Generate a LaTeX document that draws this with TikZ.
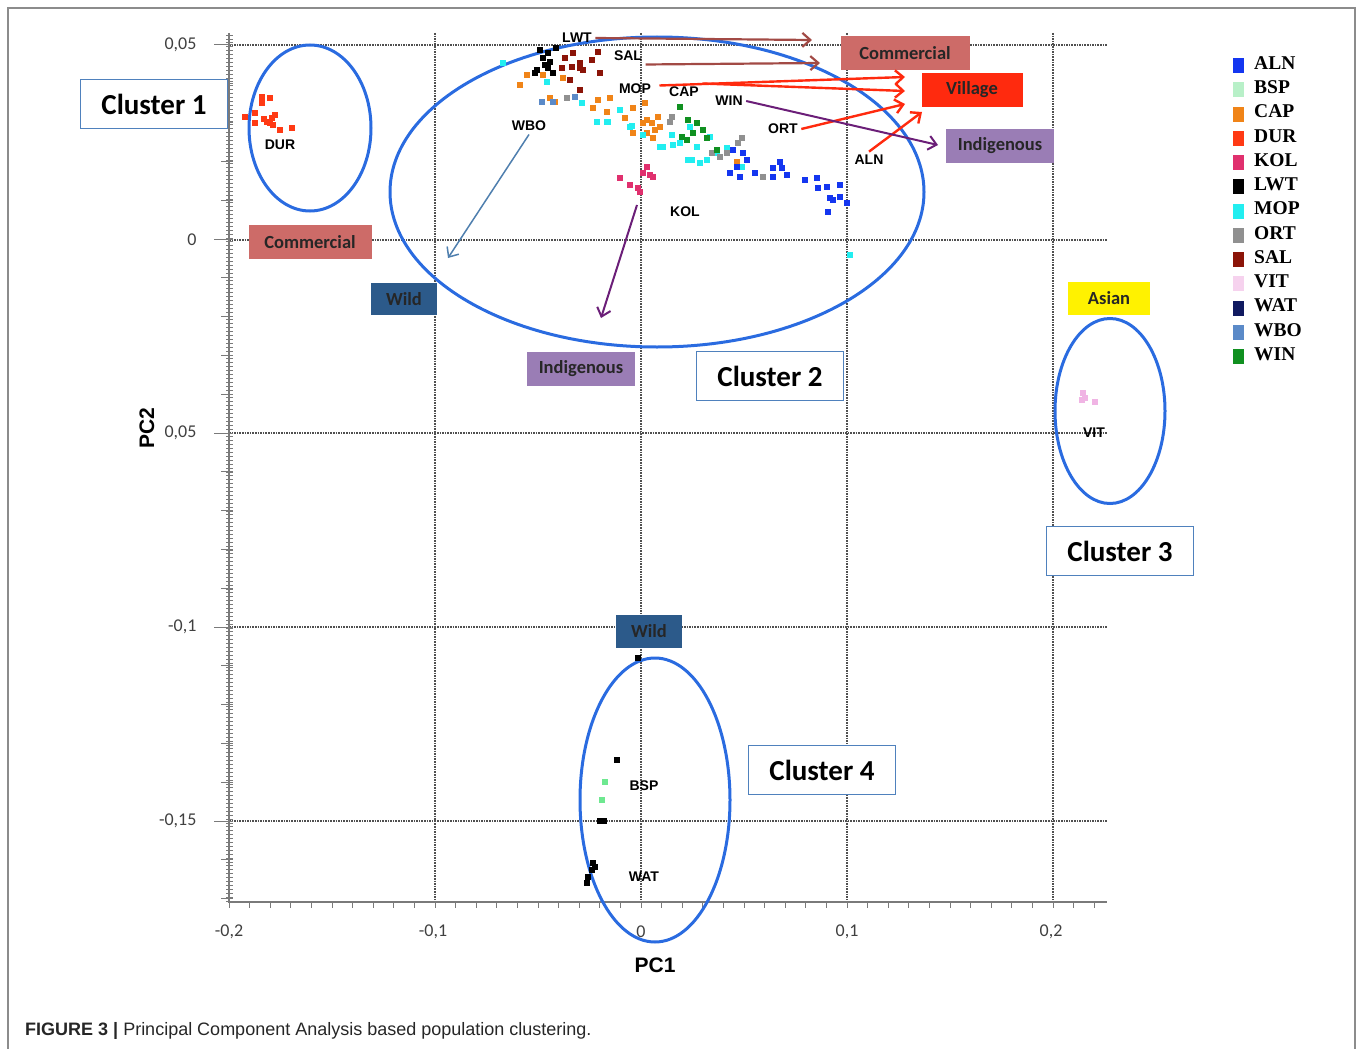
\documentclass[tikz,border=0pt]{standalone}
\usepackage{fontspec}
\setmainfont{Carlito}
\newfontfamily\lblfont{Liberation Sans}
\newfontfamily\legfont{Liberation Serif}
\usetikzlibrary{arrows.meta,shapes.geometric}

\definecolor{gridgray}{HTML}{505050}
\definecolor{axisgray}{HTML}{7A7A7A}
\definecolor{framegray}{HTML}{8C8C8C}
\definecolor{ringblue}{HTML}{2A6BE0}
\definecolor{boxblue}{HTML}{4F81BD}
\definecolor{comfill}{HTML}{CD6B68}
\definecolor{vilfill}{HTML}{FF2A0E}
\definecolor{indfill}{HTML}{9A7DB5}
\definecolor{wildfill}{HTML}{2C5A8A}
\definecolor{asfill}{HTML}{FFF200}
\definecolor{brownarr}{HTML}{A24A45}
\definecolor{purplearr}{HTML}{6B1E78}
\definecolor{steelarr}{HTML}{4F7FAE}
% population colours
\definecolor{alncol}{HTML}{1436F0}
\definecolor{bspcol}{HTML}{B8F0C8}
\definecolor{capcol}{HTML}{F08418}
\definecolor{durcol}{HTML}{FF3A14}
\definecolor{kolcol}{HTML}{E0306E}
\definecolor{lwtcol}{HTML}{000000}
\definecolor{mopcol}{HTML}{22EEF0}
\definecolor{ortcol}{HTML}{909090}
\definecolor{salcol}{HTML}{8B1408}
\definecolor{vitcol}{HTML}{F6D2EE}
\definecolor{watcol}{HTML}{101A60}
\definecolor{wbocol}{HTML}{5B8AC8}
\definecolor{wincol}{HTML}{109020}
\definecolor{bspdot}{HTML}{6EE890}
\definecolor{vitdot}{HTML}{F0B4E4}

% small square markers
\newcommand{\plotpts}[2]{\foreach \px/\py in {#2} {\fill[#1] (\px,\py) ++(-3.2,-3.2) rectangle ++(6.4,6.4);}}

\begin{document}
\begin{tikzpicture}[x=1pt,y=-1pt,>={Straight Barb[length=8pt,width=14pt]},
    gridline/.style={densely dotted, line width=1.6pt, color=gridgray},
    ring/.style={ellipse, draw=ringblue, line width=3pt, inner sep=0pt},
    clusterbox/.style={draw=boxblue, line width=1.6pt, fill=white, minimum width=147pt,
      minimum height=49pt, inner sep=0pt, font=\bfseries\fontsize{29}{29}\selectfont},
    tagbox/.style={minimum height=34pt, inner sep=0pt, text=black!85,
      font=\bfseries\fontsize{18.5}{18.5}\selectfont},
    ptlabel/.style={font=\lblfont\bfseries\fontsize{14}{14}\selectfont},
    ticklabel/.style={text=black!75, font=\fontsize{18}{18}\selectfont},
    axislabel/.style={font=\lblfont\bfseries\fontsize{21}{21}\selectfont},
    legtext/.style={anchor=west, inner sep=0pt, font=\legfont\bfseries\fontsize{19.5}{19.5}\selectfont},
    redarrow/.style={->, draw=vilfill, line width=2.4pt},
    brownarrow/.style={->, draw=brownarr, line width=2.2pt},
    purplearrow/.style={->, draw=purplearr, line width=2pt},
    bluearrow/.style={->, draw=steelarr, line width=1.5pt}]
  \useasboundingbox (0,0) rectangle (1358,1049);

  % frame
  \draw[framegray, line width=1.2pt] (8,1049) -- (8,8) -- (1355,8) -- (1355,1049);

  % grid
  \foreach \gx in {435,641,847,1053}
    \draw[gridline] (\gx,33) -- (\gx,900);
  \foreach \gy in {45,240,433,627,821}
    \draw[gridline] (229,\gy) -- (1107,\gy);

  % axes
  \draw[axisgray, line width=1.6pt] (229,33) -- (229,902) -- (1107,902);
  \foreach \k in {0,...,222}
    \draw[axisgray, line width=0.6pt] (226,35+3.9*\k) -- (233,35+3.9*\k);
  \foreach \k in {0,...,22}
    \draw[axisgray, line width=1pt] (221,45+38.8*\k) -- (233,45+38.8*\k);
  \foreach \k in {0,...,4}
    \draw[axisgray, line width=1pt] (214,45+194*\k) -- (233,45+194*\k);
  \foreach \k in {0,...,42}
    \draw[axisgray, line width=1pt] (229+20.6*\k,902) -- (229+20.6*\k,908);

  \node[ticklabel, anchor=east] (y1) at (200,45) {0,05};
  \node[ticklabel, anchor=east] (y2) at (200,240) {0};
  \node[ticklabel, anchor=east] (y3) at (200,433) {0,05};
  \node[ticklabel, anchor=east] (y4) at (200,627) {-0,1};
  \node[ticklabel, anchor=east] (y5) at (200,821) {-0,15};
  \node[ticklabel] (x1) at (229,932) {-0,2};
  \node[ticklabel] (x2) at (433,932) {-0,1};
  \node[ticklabel] (x3) at (641,932) {0};
  \node[ticklabel] (x4) at (847,932) {0,1};
  \node[ticklabel] (x5) at (1051,932) {0,2};
  \node[axislabel] (pc1) at (655,965) {PC1};
  \node[axislabel, rotate=90] (pc2) at (147,428) {PC2};

  % cluster rings
  \node[ring, minimum width=122pt, minimum height=166pt] (ring1) at (310,128) {};
  \node[ring, minimum width=534pt, minimum height=310pt] (ring2) at (657,192) {};
  \node[ring, minimum width=110pt, minimum height=185pt] (ring3) at (1110,411) {};
  \node[ring, minimum width=150pt, minimum height=284pt] (ring4) at (655,800) {};

  % cluster boxes
  \node[clusterbox] (clu1) at (154,104) {Cluster 1};
  \node[clusterbox] (clu2) at (770,376) {Cluster 2};
  \node[clusterbox] (clu3) at (1120,551) {Cluster 3};
  \node[clusterbox] (clu4) at (822,770) {Cluster 4};

  % group tags
  \node[tagbox, fill=comfill, minimum width=129pt] (comtop) at (905,53) {Commercial};
  \node[tagbox, fill=vilfill, minimum width=101pt] (village) at (972,90) {Village};
  \node[tagbox, fill=indfill, minimum width=108pt] (indtop) at (1000,146) {Indigenous};
  \node[tagbox, fill=comfill, minimum width=123pt] (comleft) at (310,242) {Commercial};
  \node[tagbox, fill=wildfill, minimum width=66pt, minimum height=32pt] (wildleft) at (404,299) {Wild};
  \node[tagbox, fill=indfill, minimum width=108pt] (indlow) at (581,369) {Indigenous};
  \node[tagbox, fill=asfill, minimum width=82pt, minimum height=33pt] (asian) at (1109,298) {Asian};
  \node[tagbox, fill=wildfill, minimum width=66pt, minimum height=33pt] (wildlow) at (649,631) {Wild};

  % populations
  \plotpts{durcol}{262/97,262/103,270/98,245/117,255/113,255/123,267/122,272/118,275/115,273/125,280/130,292/128,270/123,264/119}
  \plotpts{lwtcol}{540/50,548/53,543/58,550/62,545/65,537/70,535/73,553/73,556/48,548/68}
  \plotpts{salcol}{562/68,573/53,580/63,583/70,592/60,600/73,570/80,580/90,572/67,580/68,565/58,598/52}
  \plotpts{capcol}{520/85,527/75,543/75,563/78,550/98,555/102,598/100,610/98,593/108,607/112,645/103,633/108,643/123,633/133,652/123,655/130,647/120,658/117,660/127,647/133,653/138,737/162,625/118}
  \plotpts{mopcol}{503/63,547/82,582/103,597/122,608/122,620/110,630/127,660/147,673/145,688/160,607/122,632/126,643/135,663/147,690/127,697/147,710/137,717/153,727/148,692/160,700/163,742/167,672/135,680/143,707/160,850/255}
  \plotpts{wbocol}{542/102,553/102,575/97}
  \plotpts{ortcol}{567/98,672/117,670/122,720/157,727/153,742/138,738/143,763/177,712/153}
  \plotpts{wincol}{680/107,688/120,697/123,703/130,693/133,682/137,707/138,717/150,687/140}
  \plotpts{alncol}{733/150,743/153,747/160,737/167,730/173,740/177,755/173,773/168,780/162,782/168,787/175,773/177,805/180,817/178,827/187,840/185,818/188,830/198,840/197,833/200,847/203,828/212}
  \plotpts{kolcol}{620/178,630/185,640/192,647/167,653/177,643/173,650/175,638/188}
  \plotpts{vitdot}{1083/393,1082/400,1095/402,1085/398}
  \plotpts{bspdot}{605/782,602/800}
  \plotpts{lwtcol}{638/658,617/760,600/821,604/821,593/863,592/870,588/877,587/883,595/867}

  % population labels
  \node[ptlabel] (lwt) at (577,38) {LWT};
  \node[ptlabel] (sal) at (628,56) {SAL};
  \node[ptlabel] (mop) at (635,89) {MOP};
  \node[ptlabel] (cap) at (684,92) {CAP};
  \node[ptlabel] (win) at (729,101) {WIN};
  \node[ptlabel] (ort) at (783,129) {ORT};
  \node[ptlabel] (aln) at (869,160) {ALN};
  \node[ptlabel] (wbo) at (529,126) {WBO};
  \node[ptlabel] (kol) at (685,212) {KOL};
  \node[ptlabel] (dur) at (280,145) {DUR};
  \node[ptlabel] (bsp) at (644,786) {BSP};
  \node[ptlabel] (wat) at (644,877) {WAT};
  \node[ptlabel] (vit) at (1094,433) {VIT};

  % arrows
  \coordinate (tiplwt) at (812,40);
  \coordinate (tipsal) at (820,63);
  \coordinate (tipmop) at (905,77);
  \coordinate (tipcap) at (905,91);
  \coordinate (tiport) at (905,104);
  \coordinate (tipaln) at (922,112);
  \coordinate (tipwin) at (938,145);
  \coordinate (tipwbo) at (448,258);
  \coordinate (kolpts) at (637,205);
  \coordinate (tipkol) at (601,318);
  \draw[brownarrow] (lwt.east) -- (tiplwt);
  \draw[brownarrow] (sal.south east) -- (tipsal);
  \draw[redarrow] ([xshift=5pt,yshift=-5pt]mop.north east) -- (tipmop);
  \draw[redarrow] (cap.north east) -- (tipcap);
  \draw[redarrow] (ort.east) -- (tiport);
  \draw[redarrow] (aln.north) -- (tipaln);
  \draw[purplearrow] (win.east) -- (tipwin);
  \draw[bluearrow] (wbo.south) -- (tipwbo);
  \draw[purplearrow] (kolpts) -- (tipkol);

  % legend
  \foreach \lname/\lcol [count=\i from 0] in {ALN/alncol,BSP/bspcol,CAP/capcol,DUR/durcol,
      KOL/kolcol,LWT/lwtcol,MOP/mopcol,ORT/ortcol,SAL/salcol,VIT/vitcol,WAT/watcol,WBO/wbocol,WIN/wincol}{
    \fill[\lcol] (1233,58+24.25*\i) rectangle ++(11,15);
    \node[legtext] (leg\i) at (1254,63+24.25*\i) {\lname};
  }

  % caption
  \node[anchor=west, inner sep=0pt, font=\lblfont\fontsize{18}{18}\selectfont, text=black!85] (caption) at (25,1031)
    {\textbf{FIGURE 3 |} Principal Component Analysis based population clustering.};
\end{tikzpicture}
\end{document}
